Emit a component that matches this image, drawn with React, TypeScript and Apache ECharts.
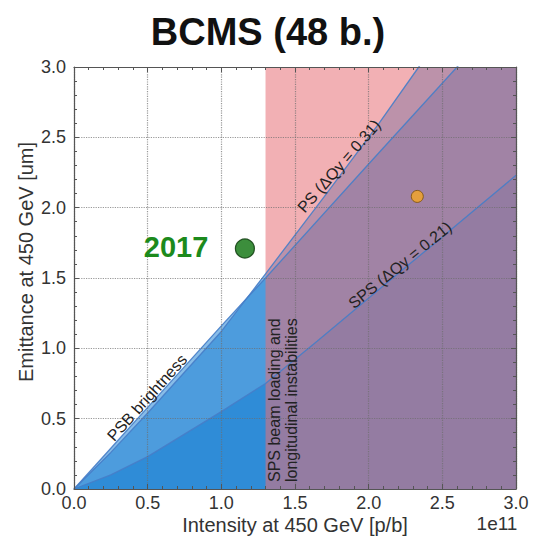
import React, { useEffect, useRef } from "react";
import * as echarts from "echarts";

// PSB brightness limit (emittance vs intensity, intensity in 1e11 p/b)
const psbX = [0, 0.25, 0.5, 1.0, 1.3, 2.0, 2.6, 3.0];
const psbY = [0, 0.29, 0.58, 1.16, 1.5, 2.31, 3.0, 3.46];
// PS space-charge limit (ΔQy = 0.31)
const psX = [0, 0.25, 0.5, 1.0, 1.3, 1.7, 2.07, 2.34, 3.0];
const psY = [0, 0.26, 0.54, 1.12, 1.53, 2.08, 2.6, 3.0, 3.97];
// SPS space-charge limit (ΔQy = 0.21)
const spsX = [0, 0.25, 0.5, 1.0, 1.3, 1.65, 2.22, 2.44, 3.0];
const spsY = [0, 0.1, 0.23, 0.55, 0.75, 1.05, 1.55, 1.74, 2.23];
// SPS beam loading / longitudinal instability limit (intensity)
const spsLongLimit = 1.3;
const yMax = 3.0;
// measured / target points
const point2017 = [1.16, 1.71];
const pointTarget = [2.33, 2.08];
const xTicks = [0, 0.5, 1.0, 1.5, 2.0, 2.5, 3.0];
const yTicks = [0, 0.5, 1.0, 1.5, 2.0, 2.5, 3.0];

const FONT = "'Liberation Sans', Arial, Helvetica, sans-serif";

function zip(xs: number[], ys: number[]) {
  return xs.map((x, i) => [x, ys[i]]);
}

export default function App() {
  const ref = useRef<HTMLDivElement>(null);
  useEffect(() => {
    if (!ref.current) return;
    const chart = echarts.init(ref.current, undefined, { renderer: "svg" });
    const blueFill = "rgba(18,124,210,0.5)";
    const edge = "rgba(70,125,200,0.9)";
    const gridLine = {
      show: true,
      lineStyle: { color: "rgba(110,110,110,0.7)", type: "dotted" as const, width: 1.2 },
    };
    const baseAxis = (extra: any) => ({
      type: "value",
      min: 0,
      max: 3,
      interval: 0.5,
      z: 10,
      axisLine: { show: true, onZero: false, lineStyle: { color: "#555", width: 1.2 } },
      axisTick: { show: true, inside: true, length: 5, lineStyle: { color: "#555" } },
      minorTick: { show: true, splitNumber: 5, length: 3, lineStyle: { color: "#555" } },
      ...extra,
    });
    const areaSeries = (name: string, data: number[][]) => ({
      name,
      type: "line",
      data,
      showSymbol: false,
      symbol: "none",
      lineStyle: { width: 0, opacity: 0 },
      areaStyle: { color: blueFill, opacity: 1 },
      z: 2,
      clip: true,
      silent: true,
    });
    const edgeSeries = (name: string, data: number[][]) => ({
      name: name + "-edge",
      type: "line",
      data,
      showSymbol: false,
      symbol: "none",
      lineStyle: { width: 1.3, color: edge },
      z: 4,
      clip: true,
      silent: true,
    });
    chart.setOption({
      animation: false,
      grid: { left: 74, right: 20, top: 67, bottom: 50 },
      xAxis: [
        baseAxis({
          position: "bottom",
          splitLine: gridLine,
          axisLabel: {
            color: "#333",
            fontSize: 18,
            fontFamily: FONT,
            margin: 5,
            formatter: (v: number) => (xTicks.includes(v) ? v.toFixed(1) : ""),
          },
        }),
        baseAxis({
          position: "top",
          splitLine: { show: false },
          axisLabel: { show: false },
        }),
      ],
      yAxis: [
        baseAxis({
          position: "left",
          splitLine: gridLine,
          axisLabel: {
            color: "#333",
            fontSize: 18,
            fontFamily: FONT,
            margin: 8,
            formatter: (v: number) => (yTicks.includes(v) ? v.toFixed(1) : ""),
          },
        }),
        baseAxis({
          position: "right",
          splitLine: { show: false },
          axisLabel: { show: false },
        }),
      ],
      series: [
        areaSeries("PSB brightness", zip(psbX, psbY)),
        areaSeries("PS", zip(psX, psY)),
        areaSeries("SPS", zip(spsX, spsY)),
        {
          name: "SPS beam loading",
          type: "line",
          data: [
            [spsLongLimit, yMax],
            [3.0, yMax],
          ],
          showSymbol: false,
          symbol: "none",
          lineStyle: { width: 0, opacity: 0 },
          areaStyle: { color: "rgba(232,112,118,0.55)", opacity: 1 },
          z: 3,
          silent: true,
        },
        edgeSeries("PSB brightness", zip(psbX, psbY)),
        edgeSeries("PS", zip(psX, psY)),
        edgeSeries("SPS", zip(spsX, spsY)),
        {
          name: "2017",
          type: "scatter",
          data: [point2017],
          symbolSize: 19,
          itemStyle: { color: "#0b720b", borderColor: "#053305", borderWidth: 1.2 },
          z: 6,
        },
        {
          name: "target",
          type: "scatter",
          data: [pointTarget],
          symbolSize: 12,
          itemStyle: { color: "#f5a623", borderColor: "#7a4d00", borderWidth: 1 },
          z: 6,
        },
      ],
      graphic: [
        {
          type: "text",
          x: 268,
          y: 32,
          style: {
            text: "BCMS (48 b.)",
            font: `bold 38px ${FONT}`,
            fill: "#111",
            textAlign: "center",
            textVerticalAlign: "middle",
          },
        },
        {
          type: "text",
          x: 295,
          y: 525,
          style: {
            text: "Intensity at 450 GeV [p/b]",
            font: `20px ${FONT}`,
            fill: "#333",
            textAlign: "center",
            textVerticalAlign: "middle",
          },
        },
        {
          type: "text",
          x: 497,
          y: 523,
          style: {
            text: "1e11",
            font: `19px ${FONT}`,
            fill: "#333",
            textAlign: "center",
            textVerticalAlign: "middle",
          },
        },
        {
          type: "text",
          x: 26,
          y: 262,
          rotation: Math.PI / 2,
          style: {
            text: "Emittance at 450 GeV [um]",
            font: `20px ${FONT}`,
            fill: "#333",
            textAlign: "center",
            textVerticalAlign: "middle",
          },
        },
        {
          type: "text",
          x: 176,
          y: 247,
          z: 20,
          style: {
            text: "2017",
            font: `bold 29px ${FONT}`,
            fill: "#1c8a1c",
            textAlign: "center",
            textVerticalAlign: "middle",
          },
        },
        {
          type: "text",
          x: 153,
          y: 403,
          z: 20,
          rotation: (48 * Math.PI) / 180,
          style: {
            text: "PSB brightness",
            font: `16px ${FONT}`,
            fill: "#222",
            textAlign: "center",
            textVerticalAlign: "bottom",
          },
        },
        {
          type: "text",
          x: 339,
          y: 166,
          z: 20,
          rotation: (49 * Math.PI) / 180,
          style: {
            text: "PS (ΔQy = 0.31)",
            font: `16px ${FONT}`,
            fill: "#222",
            textAlign: "center",
            textVerticalAlign: "middle",
          },
        },
        {
          type: "text",
          x: 400,
          y: 265,
          z: 20,
          rotation: (39 * Math.PI) / 180,
          style: {
            text: "SPS (ΔQy = 0.21)",
            font: `16px ${FONT}`,
            fill: "#222",
            textAlign: "center",
            textVerticalAlign: "middle",
          },
        },
        {
          type: "text",
          x: 266,
          y: 482,
          z: 20,
          rotation: Math.PI / 2,
          style: {
            text: "SPS beam loading and\nlongitudinal instabilities",
            font: `16px ${FONT}`,
            lineHeight: 17,
            fill: "#222",
            textAlign: "left",
            textVerticalAlign: "top",
          },
        },
      ],
    });
    return () => chart.dispose();
  }, []);
  return <div ref={ref} style={{ width: 536, height: 539, position: "absolute", left: 0, top: 0 }} />;
}
